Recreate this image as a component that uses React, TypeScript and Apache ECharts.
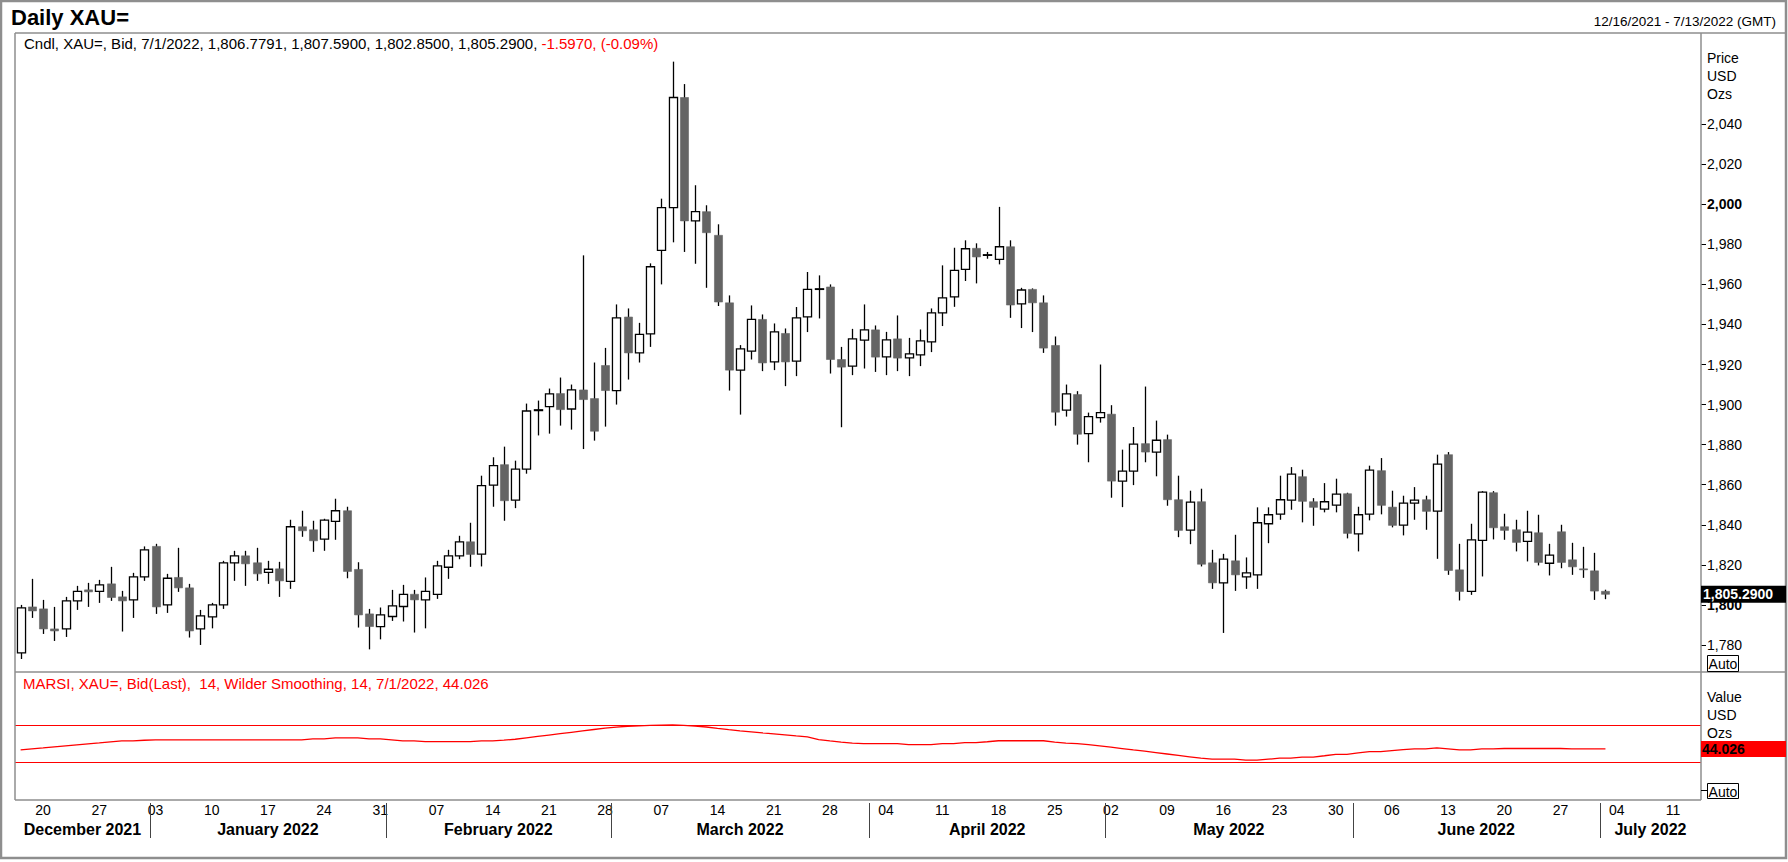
import React, { useEffect, useRef } from "react";
import * as echarts from "echarts";

const FONT = "'Liberation Sans', Arial, sans-serif";

// trading calendar (weekdays) shown on the axis
const START_DATE = "2021-12-16";
const END_DATE = "2022-07-13";

const OPEN = [
  1776, 1799, 1798, 1788, 1788, 1802, 1807.5, 1806.7, 1810.5, 1804, 1802.5, 1814,
  1829.2, 1800, 1813.7, 1808.5, 1788, 1794, 1800, 1821, 1824.5, 1821, 1816.2, 1818,
  1811.7, 1839, 1837.5, 1832.8, 1841.7, 1847, 1817.7, 1795.5, 1789.2, 1794.2, 1799.2, 1805.3,
  1802.5, 1805.3, 1818.8, 1824.5, 1831.5, 1825.3, 1859.8, 1870, 1852.3, 1867.8, 1897, 1899,
  1905.5, 1897.8, 1907.3, 1903, 1919.5, 1907, 1943.7, 1925.8, 1935.3, 1977, 1998.3, 2053.3,
  1991.7, 1996.3, 1984.5, 1950.8, 1917.2, 1926.7, 1942.5, 1921.3, 1935.5, 1921.7, 1943.8, 1957.5,
  1958.7, 1922.5, 1919.2, 1932.2, 1937.3, 1923.8, 1932.8, 1923.3, 1924.8, 1931.3, 1945.8, 1953.8,
  1967.5, 1978, 1974.5, 1972.5, 1978.8, 1950.3, 1957.5, 1950.8, 1929.5, 1897.2, 1905, 1885.5,
  1893.5, 1895.2, 1861.8, 1866.8, 1880.5, 1876.3, 1882.5, 1852.5, 1837.3, 1851.5, 1821, 1811,
  1822, 1814, 1815, 1840.5, 1845.3, 1852.3, 1864, 1851.5, 1847.8, 1849.8, 1855.5, 1835.5,
  1845.3, 1867, 1848.8, 1839.8, 1850.8, 1852.5, 1846.8, 1875, 1817.5, 1806.7, 1832.2, 1856,
  1839, 1837.5, 1831.7, 1836, 1820.8, 1836.5, 1822.5, 1818, 1817, 1806.7791,
];
const HIGH = [
  1800, 1813, 1802.5, 1799, 1804, 1809.5, 1811, 1812.5, 1819, 1807, 1816, 1829.2,
  1830.5, 1815.5, 1828.5, 1810.5, 1797.5, 1801, 1822, 1827, 1827, 1828.5, 1822, 1821.5,
  1842.5, 1847, 1842, 1843, 1853, 1849, 1821.3, 1798, 1798.7, 1807.5, 1810, 1807.5,
  1813.7, 1822, 1827.5, 1834.5, 1841, 1864.5, 1873.7, 1879, 1872, 1900.5, 1902, 1908,
  1913.5, 1910, 1974.5, 1921, 1928.3, 1950, 1948, 1940.8, 1970.5, 2002.8, 2071.2, 2060,
  2009.5, 1999.5, 1990, 1954.5, 1929.7, 1949.5, 1945, 1940.5, 1938, 1948.7, 1966.2, 1964.5,
  1960, 1928.8, 1937.8, 1950, 1939.5, 1936.3, 1944.5, 1933.3, 1937.5, 1948, 1969.5, 1978.3,
  1982, 1980.5, 1976.2, 1998.7, 1982, 1958.3, 1958, 1954.5, 1934, 1910, 1906.7, 1896,
  1920, 1899.7, 1877.5, 1888.8, 1909, 1892, 1885, 1864.5, 1857, 1858, 1827.5, 1825.5,
  1835, 1823.7, 1848.7, 1848.7, 1864.5, 1868.8, 1867.5, 1853.3, 1860.8, 1863, 1856, 1849,
  1869.5, 1873.3, 1857, 1854.5, 1858.8, 1854.5, 1875, 1876.3, 1830.5, 1840.5, 1856.8, 1856.8,
  1845.5, 1842.5, 1847, 1845, 1830.5, 1840, 1831, 1829, 1826, 1807.59,
];
const LOW = [
  1773, 1793.5, 1785.5, 1782, 1784, 1797.5, 1799, 1801, 1802, 1786.7, 1793.5, 1812,
  1795.5, 1796, 1806.5, 1783.7, 1780, 1788.3, 1798, 1812, 1809.5, 1812, 1810.5, 1804,
  1808, 1834, 1826.5, 1827, 1832.5, 1813.3, 1788.7, 1777.8, 1782.8, 1792, 1791.7, 1786.2,
  1788.3, 1803, 1813, 1822.8, 1819, 1819.2, 1849, 1842, 1848.3, 1865.5, 1884.6, 1885.5,
  1889.5, 1887.5, 1877.8, 1882, 1889, 1900, 1912.5, 1921, 1928.8, 1960, 1981, 1976.2,
  1970.3, 1958.3, 1949.2, 1907, 1895, 1922.5, 1916.7, 1917.2, 1909.2, 1914.2, 1936.2, 1943,
  1915.5, 1888.7, 1914.7, 1918, 1916.3, 1914.7, 1916.7, 1914.2, 1919.2, 1926.2, 1939.2, 1948.8,
  1961.7, 1960.5, 1972.8, 1970, 1943.3, 1938.2, 1936.2, 1925.8, 1889.5, 1894, 1880, 1871.2,
  1891, 1853.5, 1848.8, 1859.8, 1871.2, 1864.2, 1849.5, 1833.8, 1830.3, 1819.2, 1808, 1786,
  1807, 1808, 1808, 1830.8, 1842.5, 1847.5, 1841.2, 1839.5, 1846.2, 1846.2, 1833.2, 1826.7,
  1842.2, 1845.2, 1838.7, 1834.7, 1842.5, 1837.5, 1823, 1815, 1802.2, 1805, 1814.2, 1832.7,
  1832.5, 1826.7, 1821.7, 1819.7, 1814.7, 1818.3, 1815, 1813.5, 1802.5, 1802.85,
];
const CLOSE = [
  1798.5, 1797, 1788, 1787, 1802, 1806.7, 1806.5, 1810, 1803.7, 1802, 1814, 1827.5,
  1799, 1813.3, 1808.5, 1787, 1794.5, 1800, 1821, 1824.5, 1820.5, 1815.5, 1817.8, 1812,
  1839, 1837, 1832, 1842.3, 1847, 1816.7, 1795, 1789.2, 1795, 1799.5, 1805.3, 1802.5,
  1806.7, 1819.5, 1824.5, 1831.5, 1825.2, 1859.5, 1869.5, 1852, 1867.8, 1896.8, 1897.4, 1905.3,
  1897.5, 1907.3, 1902.5, 1886.7, 1907, 1943.3, 1925.8, 1935, 1968.8, 1998.3, 2053.3, 1991.7,
  1996.3, 1985.8, 1951.2, 1917.2, 1927.8, 1942.5, 1920.8, 1936.3, 1921.3, 1943.3, 1957.5, 1957.8,
  1922.5, 1918.7, 1932.8, 1937.3, 1923.7, 1932.3, 1923.2, 1925.3, 1931.8, 1945.8, 1953.3, 1967,
  1977.8, 1973.7, 1974.8, 1978.8, 1949.7, 1957.2, 1950.8, 1928.2, 1896.2, 1905.3, 1885.2, 1894,
  1896, 1861.8, 1866.8, 1880.3, 1876.3, 1882.2, 1852.5, 1837.2, 1851.3, 1820.3, 1811, 1822.8,
  1815, 1816, 1841, 1845, 1852.5, 1865.3, 1851.7, 1848.7, 1851.5, 1855.3, 1835.7, 1845,
  1867.3, 1849.7, 1839.7, 1850.8, 1852.3, 1846.7, 1870.3, 1817.2, 1806.7, 1832.5, 1856.3, 1838.5,
  1837.2, 1831.2, 1836.3, 1821.2, 1824.8, 1821.2, 1819, 1817.5, 1806.9, 1805.29,
];
const RSI = [
  43.0, 44.1, 45.1, 46.2, 47.3, 48.4, 49.5, 50.5, 51.6, 52.7, 52.7, 53.4,
  53.8, 53.8, 53.8, 53.8, 53.8, 53.8, 53.8, 53.8, 53.8, 53.8, 53.8, 53.8,
  53.8, 53.8, 54.9, 54.9, 55.9, 55.9, 55.9, 54.9, 54.9, 53.8, 52.7, 52.7,
  52.0, 52.0, 52.0, 52.0, 52.0, 52.7, 52.7, 53.5, 54.5, 56.0, 57.5, 59.0,
  60.5, 62.0, 63.5, 65.0, 66.5, 67.5, 68.5, 69.0, 69.5, 69.8, 70.0, 69.5,
  68.6, 67.7, 66.2, 64.8, 63.6, 62.5, 61.4, 60.4, 59.3, 58.1, 57.0, 54.1,
  52.7, 51.5, 50.4, 49.7, 49.7, 49.7, 49.7, 48.6, 48.6, 48.6, 49.7, 49.7,
  50.8, 50.8, 51.8, 52.9, 52.9, 52.9, 52.9, 52.9, 51.5, 50.4, 49.7, 48.6,
  47.4, 46.0, 44.5, 43.0, 41.6, 40.1, 38.6, 37.1, 35.6, 34.1, 33.0, 33.0,
  33.0, 31.9, 31.9, 33.0, 34.1, 34.1, 35.3, 35.3, 36.7, 38.2, 38.2, 39.7,
  41.1, 41.1, 42.3, 43.4, 44.2, 44.2, 45.2, 44.2, 43.0, 43.0, 44.2, 44.2,
  44.5, 44.5, 44.5, 44.5, 44.5, 44.5, 44.2, 44.2, 44.1, 44.026,
];
const PRICE_TICKS = [1780, 1800, 1820, 1840, 1860, 1880, 1900, 1920, 1940, 1960, 1980, 2000, 2020, 2040];
const RSI_LEVELS = [70, 30];
const MONTH_NAMES = [
  "January", "February", "March", "April", "May", "June",
  "July", "August", "September", "October", "November", "December",
];

const TITLE = "Daily XAU=";
const RANGE_TEXT = "12/16/2021 - 7/13/2022 (GMT)";
const CNDL_TEXT = "Cndl, XAU=, Bid, 7/1/2022, 1,806.7791, 1,807.5900, 1,802.8500, 1,805.2900, ";
const CNDL_CHANGE = "-1.5970, (-0.09%)";
const RSI_TEXT = "MARSI, XAU=, Bid(Last),  14, Wilder Smoothing, 14, 7/1/2022, 44.026";

function tradingDays(start: string, end: string): string[] {
  const out: string[] = [];
  const d = new Date(start + "T00:00:00Z");
  const e = new Date(end + "T00:00:00Z");
  while (d <= e) {
    const wd = d.getUTCDay();
    if (wd !== 0 && wd !== 6) out.push(d.toISOString().slice(0, 10));
    d.setUTCDate(d.getUTCDate() + 1);
  }
  return out;
}

function fmtNum(v: number, dec: number): string {
  const s = v.toFixed(dec);
  const [ip, dp] = s.split(".");
  const ig = ip.replace(/\B(?=(\d{3})+(?!\d))/g, ",");
  return dp !== undefined ? ig + "." + dp : ig;
}

// layout (pixels)
const L = 15;
const T = 33;
const W = 1686;
const H1 = 639;
const H2 = 128;
const RIGHT = L + W;
const SEP = T + H1;
const BOT = SEP + H2;
const FRAME = "#8e8e8e";

export default function App() {
  const ref = useRef<HTMLDivElement>(null);

  useEffect(() => {
    if (!ref.current) return;
    const chart = echarts.init(ref.current, null, { renderer: "svg" });
    const dates = tradingDays(START_DATE, END_DATE);
    const candleData = OPEN.map((o, i) => [i, o, CLOSE[i], LOW[i], HIGH[i]]);

    const renderItem = (params: any, api: any) => {
      const i = api.value(0);
      const o = api.value(1);
      const c = api.value(2);
      const lo = api.value(3);
      const hi = api.value(4);
      const pH = api.coord([i, hi]);
      const pL = api.coord([i, lo]);
      const pO = api.coord([i, o]);
      const pC = api.coord([i, c]);
      const w = api.size([1, 0])[0] * 0.72;
      const x = Math.round(pH[0]) + 0.5;
      const up = c >= o;
      const top = Math.min(pO[1], pC[1]);
      const h = Math.abs(pO[1] - pC[1]);
      return {
        type: "group",
        children: [
          {
            type: "line",
            shape: { x1: x, y1: pH[1], x2: x, y2: pL[1] },
            style: { stroke: "#000", lineWidth: 1.3 },
          },
          {
            type: "rect",
            shape: { x: x - w / 2, y: top, width: w, height: h },
            style: up
              ? { fill: "#ffffff", stroke: "#000", lineWidth: 1.3 }
              : { fill: "#646464", stroke: "#646464", lineWidth: 0.6 },
          },
        ],
      };
    };

    const priceFormatter = (v: number) => {
      const s = fmtNum(v, 0);
      return v % 200 === 0 ? "{b|" + s + "}" : s;
    };

    chart.setOption({
      animation: false,
      backgroundColor: "#ffffff",
      textStyle: { fontFamily: FONT },
      grid: [
        { left: L, top: T, width: W, height: H1, show: false },
        { left: L, top: SEP, width: W, height: H2, show: false },
      ],
      xAxis: [
        {
          type: "category",
          gridIndex: 0,
          data: dates,
          boundaryGap: true,
          axisLine: { show: false },
          axisTick: { show: false },
          axisLabel: { show: false },
          splitLine: { show: false },
        },
        {
          type: "category",
          gridIndex: 1,
          data: dates,
          boundaryGap: true,
          axisLine: { show: false },
          axisTick: { show: false },
          splitLine: { show: false },
          axisLabel: {
            show: true,
            interval: (_i: number, v: string) => new Date(v + "T00:00:00Z").getUTCDay() === 1,
            formatter: (v: string) => v.slice(8, 10),
            margin: 3,
            fontSize: 14,
            color: "#000",
            fontFamily: FONT,
          },
        },
      ],
      yAxis: [
        {
          type: "value",
          gridIndex: 0,
          position: "right",
          min: 1766.5,
          max: 2085.5,
          axisLine: { show: false },
          splitLine: { show: false },
          axisTick: {
            show: true,
            customValues: PRICE_TICKS,
            length: 5,
            lineStyle: { color: "#000", width: 1 },
          },
          axisLabel: {
            customValues: PRICE_TICKS,
            formatter: priceFormatter,
            margin: 6,
            fontSize: 14,
            color: "#000",
            fontFamily: FONT,
            rich: { b: { fontWeight: "bold", fontSize: 14, color: "#000", fontFamily: FONT } },
          },
        },
        {
          type: "value",
          gridIndex: 1,
          position: "right",
          min: -11,
          max: 127,
          axisLine: { show: false },
          axisTick: { show: false },
          axisLabel: { show: false },
          splitLine: { show: false },
        },
      ],
      series: [
        {
          type: "custom",
          name: "XAU=",
          xAxisIndex: 0,
          yAxisIndex: 0,
          renderItem,
          data: candleData,
          encode: { x: 0, y: [1, 2, 3, 4] },
          clip: true,
          z: 5,
        },
        {
          type: "line",
          name: "MARSI",
          xAxisIndex: 1,
          yAxisIndex: 1,
          data: RSI,
          symbol: "none",
          showSymbol: false,
          lineStyle: { color: "#ff0000", width: 1.3 },
          markLine: {
            silent: true,
            symbol: "none",
            label: { show: false },
            lineStyle: { color: "#ff0000", width: 1.2, type: "solid" },
            data: RSI_LEVELS.map((v) => ({ yAxis: v })),
          },
        },
      ],
    });

    // positions of overlays taken from the chart's own scales
    const xAt = (i: number) => chart.convertToPixel({ xAxisIndex: 1 }, i) as number;
    const slot = xAt(1) - xAt(0);
    const lastIdx = CLOSE.length - 1;
    const pricePx = chart.convertToPixel({ gridIndex: 0 }, [lastIdx, CLOSE[lastIdx]]) as number[];
    const rsiPx = chart.convertToPixel({ gridIndex: 1 }, [lastIdx, RSI[lastIdx]]) as number[];

    const groups: { key: string; a: number; b: number }[] = [];
    dates.forEach((d, i) => {
      const k = d.slice(0, 7);
      const g = groups[groups.length - 1];
      if (g && g.key === k) g.b = i;
      else groups.push({ key: k, a: i, b: i });
    });

    const Z = 100;
    const txt = (x: number, y: number, text: string, extra: any = {}) => ({
      type: "text",
      x,
      y,
      z: Z,
      style: {
        text,
        fontSize: 14,
        fontFamily: FONT,
        fill: "#000",
        align: "left",
        verticalAlign: "middle",
        ...extra,
      },
    });
    const ln = (x1: number, y1: number, x2: number, y2: number, color = FRAME, width = 1.5) => ({
      type: "line",
      z: Z,
      shape: { x1, y1, x2, y2 },
      style: { stroke: color, lineWidth: width },
    });

    const graphic: any[] = [
      {
        type: "rect",
        z: Z,
        shape: { x: 1, y: 1, width: 1785, height: 857 },
        style: { fill: "none", stroke: FRAME, lineWidth: 2.5 },
      },
      ln(L, T, 1786, T),
      ln(L, T, L, BOT),
      ln(RIGHT, T, RIGHT, BOT),
      ln(L, SEP, 1786, SEP),
      ln(L, BOT, RIGHT, BOT),
      txt(11, 17, TITLE, { fontSize: 22, fontWeight: "bold" }),
      txt(1776, 21, RANGE_TEXT, { fontSize: 13.5, align: "right" }),
      {
        type: "text",
        x: 24,
        y: 43,
        z: Z,
        style: {
          text: "{k|" + CNDL_TEXT + "}{r|" + CNDL_CHANGE + "}",
          fontSize: 15,
          fontFamily: FONT,
          verticalAlign: "middle",
          align: "left",
          rich: {
            k: { fill: "#000", color: "#000", fontSize: 15, fontFamily: FONT },
            r: { fill: "#ff0000", color: "#ff0000", fontSize: 15, fontFamily: FONT },
          },
        },
      },
      txt(23, 683, RSI_TEXT, { fill: "#ff0000", fontSize: 15 }),
      txt(1707, 58, "Price"),
      txt(1707, 76, "USD"),
      txt(1707, 94, "Ozs"),
      txt(1707, 697, "Value"),
      txt(1707, 715, "USD"),
      txt(1707, 733, "Ozs"),
      {
        type: "rect",
        z: Z,
        shape: { x: 1707.5, y: 655.5, width: 31, height: 16 },
        style: { fill: "#fff", stroke: "#000", lineWidth: 1 },
      },
      txt(1723, 664, "Auto", { align: "center" }),
      {
        type: "rect",
        z: Z,
        shape: { x: 1707.5, y: 783.5, width: 31, height: 15 },
        style: { fill: "#fff", stroke: "#000", lineWidth: 1 },
      },
      txt(1723, 791.5, "Auto", { align: "center" }),
      ln(RIGHT, 790.5, RIGHT + 6, 790.5, "#000", 1),
      {
        type: "rect",
        z: Z,
        shape: { x: RIGHT, y: pricePx[1] - 8.5, width: 85, height: 17 },
        style: { fill: "#000" },
      },
      txt(RIGHT + 2, pricePx[1], fmtNum(CLOSE[lastIdx], 4), { fill: "#fff", fontWeight: "bold" }),
      {
        type: "rect",
        z: Z,
        shape: { x: RIGHT, y: rsiPx[1] - 8, width: 85, height: 16 },
        style: { fill: "#ff0000" },
      },
      txt(RIGHT + 1, rsiPx[1], RSI[lastIdx].toFixed(3), { fill: "#000", fontWeight: "bold" }),
    ];

    groups.forEach((g, gi) => {
      const left = xAt(g.a) - slot / 2;
      const right = xAt(g.b) + slot / 2;
      const [yy, mm] = g.key.split("-");
      const name = MONTH_NAMES[parseInt(mm, 10) - 1] + " " + yy;
      graphic.push(txt((left + right) / 2, 829, name, { fontSize: 16, fontWeight: "bold", align: "center" }));
      if (gi > 0) graphic.push(ln(Math.round(left) + 0.5, 803, Math.round(left) + 0.5, 838, "#444", 1));
    });

    chart.setOption({ graphic });

    return () => chart.dispose();
  }, []);

  return (
    <div
      ref={ref}
      style={{ position: "fixed", left: 0, top: 0, width: 1788, height: 862, background: "#fff" }}
    />
  );
}
